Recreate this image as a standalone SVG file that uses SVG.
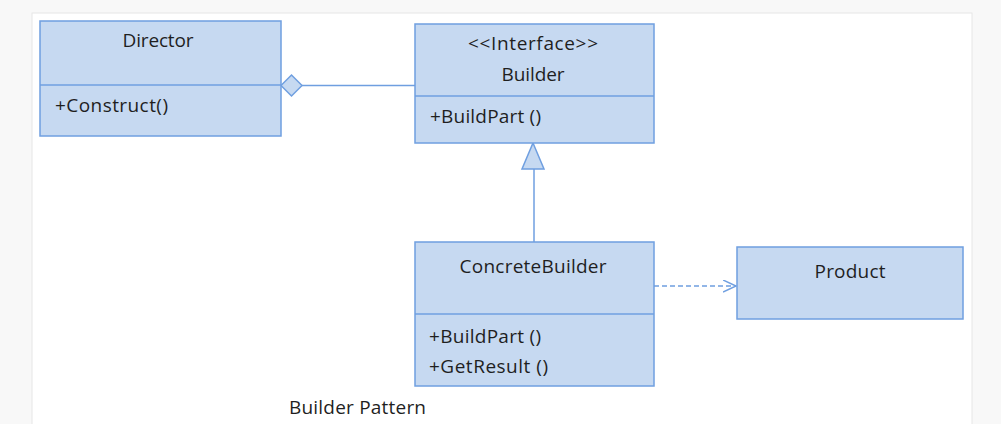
<svg xmlns="http://www.w3.org/2000/svg" width="1001" height="424" viewBox="0 0 1001 424">
<style>
.box{fill:#c6d9f1;stroke:#6f9fe0;stroke-width:1.5}
.div{stroke:#6f9fe0;stroke-width:1.5;fill:none}
.t{font-family:"Open Sans","Liberation Sans",sans-serif;font-size:19px;fill:#1f1f1f}
.c{text-anchor:middle}
.line{stroke:#6f9fe0;stroke-width:1.5;fill:none}
</style>
<defs>
<marker id="open" markerWidth="16" markerHeight="16" refX="13" refY="6" orient="auto" markerUnits="userSpaceOnUse">
<path d="M0,0 L13,6 L0,12" fill="none" stroke="#6f9fe0" stroke-width="1.5"/>
</marker>
</defs>
<rect x="0" y="0" width="1001" height="424" fill="#f8f8f8"/>
<rect x="32" y="13" width="940" height="420" fill="#ffffff" stroke="#e6e6e6" stroke-width="1"/>
<g id="connectors">
<line class="line" x1="302" y1="85.5" x2="415" y2="85.5"/>
<polygon points="281,85.5 291.5,75 302,85.5 291.5,96" fill="#c6d9f1" stroke="#6f9fe0" stroke-width="1.5"/>
<line class="line" x1="534" y1="169" x2="534" y2="242"/>
<polygon points="533,143 544,169 522,169" fill="#c6d9f1" stroke="#6f9fe0" stroke-width="1.5"/>
<line class="line" x1="654" y1="286" x2="736" y2="286" stroke-dasharray="5,3" marker-end="url(#open)"/>
</g>
<g id="director">
<rect class="box" x="40" y="21" width="241" height="115"/>
<line class="div" x1="40" y1="85" x2="281" y2="85"/>
<text class="t c" x="158" y="47" textLength="71">Director</text>
<text class="t" x="55" y="112" textLength="113">+Construct()</text>
</g>
<g id="builder">
<rect class="box" x="415" y="24" width="239" height="119"/>
<line class="div" x1="415" y1="96" x2="654" y2="96"/>
<text class="t c" x="533" y="50" textLength="130">&lt;&lt;Interface&gt;&gt;</text>
<text class="t c" x="533" y="81" textLength="63">Builder</text>
<text class="t" x="430" y="123" textLength="111">+BuildPart ()</text>
</g>
<g id="concretebuilder">
<rect class="box" x="415" y="242" width="239" height="144"/>
<line class="div" x1="415" y1="314" x2="654" y2="314"/>
<text class="t c" x="533" y="273" textLength="147">ConcreteBuilder</text>
<text class="t" x="429" y="343" textLength="112">+BuildPart ()</text>
<text class="t" x="429" y="373" textLength="119">+GetResult ()</text>
</g>
<g id="product">
<rect class="box" x="737" y="247" width="226" height="72"/>
<text class="t c" x="850" y="278" textLength="71">Product</text>
</g>
<text class="t" x="289" y="414" textLength="137">Builder Pattern</text>
</svg>
